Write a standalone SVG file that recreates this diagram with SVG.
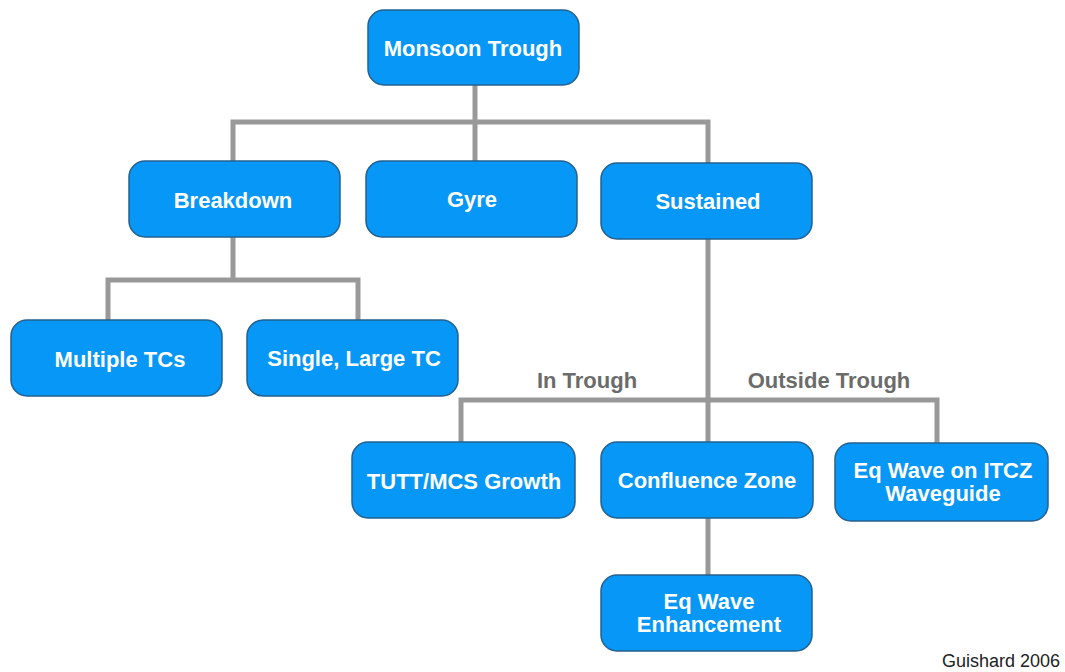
<svg xmlns="http://www.w3.org/2000/svg" width="1065" height="672" viewBox="0 0 1065 672">
<style>
.n{fill:#0797F7;stroke:#24608f;stroke-width:1.5}
.t{font-family:"Liberation Sans",Arial,sans-serif;font-weight:bold;font-size:22px;fill:#fff;text-anchor:middle}
.c{fill:none;stroke:#999;stroke-width:5}
.l{font-family:"Liberation Sans",Arial,sans-serif;font-weight:bold;font-size:22px;fill:#6b6b6b;text-anchor:middle}
</style>
<rect width="1065" height="672" fill="#fff"/>
<g id="connectors">
<path class="c" d="M475,85V122M233,161V122H708V163M475,122V161"/>
<path class="c" d="M233,237V280M108,320V280H358V320"/>
<path class="c" d="M708,239V443M461,443V400H937V443"/>
<path class="c" d="M708,518V575"/>
</g>
<text class="l" x="587" y="388">In Trough</text>
<text class="l" x="829" y="388">Outside Trough</text>
<g id="monsoon"><rect class="n" x="368" y="10" width="211" height="75" rx="16"/><text class="t" x="473" y="56">Monsoon Trough</text></g>
<g id="breakdown"><rect class="n" x="129" y="161" width="211" height="76" rx="16"/><text class="t" x="233" y="208">Breakdown</text></g>
<g id="gyre"><rect class="n" x="366" y="161" width="211" height="76" rx="16"/><text class="t" x="472" y="207">Gyre</text></g>
<g id="sustained"><rect class="n" x="601" y="163" width="211" height="76" rx="16"/><text class="t" x="708" y="209">Sustained</text></g>
<g id="multiple"><rect class="n" x="11" y="320" width="211" height="76" rx="16"/><text class="t" x="120" y="367">Multiple TCs</text></g>
<g id="single"><rect class="n" x="247" y="320" width="211" height="76" rx="16"/><text class="t" x="354" y="366">Single, Large TC</text></g>
<g id="tutt"><rect class="n" x="352" y="442" width="223" height="76" rx="16"/><text class="t" x="464" y="489">TUTT/MCS Growth</text></g>
<g id="confluence"><rect class="n" x="601" y="442" width="212" height="76" rx="16"/><text class="t" x="707" y="488">Confluence Zone</text></g>
<g id="eqitcz"><rect class="n" x="835" y="443" width="213" height="78" rx="16"/><text class="t" x="943" y="478">Eq Wave on ITCZ</text><text class="t" x="943" y="501">Waveguide</text></g>
<g id="eqenh"><rect class="n" x="601" y="575" width="211" height="76" rx="16"/><text class="t" x="709" y="609">Eq Wave</text><text class="t" x="709" y="632">Enhancement</text></g>
<text x="1060" y="667" font-family="Liberation Sans,Arial,sans-serif" font-size="18" fill="#222" text-anchor="end">Guishard 2006</text>
</svg>
